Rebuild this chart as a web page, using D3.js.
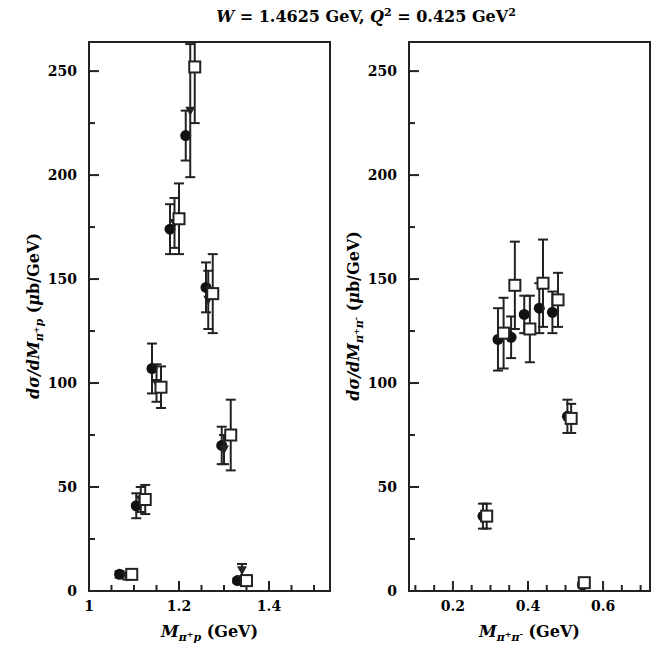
<!DOCTYPE html>
<html><head><meta charset="utf-8">
<script src="https://cdn.jsdelivr.net/npm/d3@7"></script>
<style>body{margin:0;background:#fff}text{font-family:"DejaVu Serif",serif;font-weight:bold}</style>
</head><body><div id="vis"></div>
<script>
var width = 652, height = 645;

// left panel: M(pi+ p)
var leftCircles = [[1.068,8,1.5],[1.105,41,6],[1.14,107,12],[1.18,174,12],[1.215,219,12],[1.26,146,12],[1.295,70,9],[1.33,5,1]];
var leftTriangles = [[1.085,7,1.5],[1.115,44,6],[1.15,100,9],[1.19,177,12],[1.225,231,32],[1.265,140,14],[1.3,68,7],[1.34,10,3]];
var leftSquares = [[1.095,8,1.5],[1.125,44,7],[1.16,98,10],[1.2,179,17],[1.235,252,27],[1.275,143,19],[1.315,75,17],[1.35,5,2]];
// right panel: M(pi+ pi-)
var rightCircles = [[0.28,36,6],[0.32,121,15],[0.355,122,10],[0.39,133,9],[0.43,136,12],[0.465,134,10],[0.505,84,8],[0.545,3,1]];
var rightSquares = [[0.29,36,6],[0.335,124,17],[0.365,147,21],[0.405,126,16],[0.44,148,21],[0.48,140,13],[0.515,83,7],[0.55,4,1]];

var yTicks = [0,50,100,150,200,250];
var leftXTicks = [1,1.2,1.4];
var rightXTicks = [0.2,0.4,0.6];

var svg = d3.select("#vis").append("svg").attr("width",width).attr("height",height);

svg.append("text").attr("x",366).attr("y",22).attr("text-anchor","middle").attr("font-size",16)
  .html('<tspan font-style="italic">W</tspan> = 1.4625 GeV, <tspan font-style="italic">Q</tspan><tspan dy="-6" font-size="11">2</tspan><tspan dy="6"> = 0.425 GeV</tspan><tspan dy="-6" font-size="11">2</tspan>');

function panel(x0,x1,xdom,xticks,series,xlab,ylab){
  var y = d3.scaleLinear().domain([0,264]).range([591,42]);
  var x = d3.scaleLinear().domain(xdom).range([x0,x1]);
  var g = svg.append("g");
  g.append("rect").attr("x",x0).attr("y",42).attr("width",x1-x0).attr("height",549)
    .attr("fill","none").attr("stroke","#222").attr("stroke-width",2);
  d3.range(0,264,25).forEach(function(v){
    var major = v%50===0;
    g.append("line").attr("x1",x0).attr("x2",x0+(major?10:6)).attr("y1",y(v)).attr("y2",y(v)).attr("stroke","#222").attr("stroke-width",2);
  });
  yTicks.forEach(function(v){
    g.append("text").attr("x",x0-12).attr("y",y(v)+5).attr("text-anchor","end").attr("font-size",14).text(v);
  });
  var step = 0.05, start = Math.ceil(xdom[0]/step-1e-9)*step;
  for(var v=start; v<xdom[1]; v+=step){
    var major = xticks.some(function(t){return Math.abs(t-v)<1e-6;});
    g.append("line").attr("x1",x(v)).attr("x2",x(v)).attr("y1",591).attr("y2",591-(major?10:6)).attr("stroke","#222").attr("stroke-width",2);
  }
  xticks.forEach(function(v){
    g.append("text").attr("x",x(v)).attr("y",611).attr("text-anchor","middle").attr("font-size",14).text(d3.format("")(v));
  });
  g.append("text").attr("x",(x0+x1)/2).attr("y",637).attr("text-anchor","middle").attr("font-size",16).html(xlab);
  g.append("text").attr("transform","translate("+(x0-50)+",316) rotate(-90)").attr("text-anchor","middle").attr("font-size",16).html(ylab);

  var clip = "c"+x0;
  g.append("clipPath").attr("id",clip).append("rect").attr("x",x0).attr("y",42).attr("width",x1-x0).attr("height",549);
  var d = g.append("g").attr("clip-path","url(#"+clip+")");
  series.forEach(function(s){
    s.data.forEach(function(p){
      var cx = x(p[0]), cy = y(p[1]);
      d.append("line").attr("x1",cx).attr("x2",cx).attr("y1",y(p[1]-p[2])).attr("y2",y(p[1]+p[2])).attr("stroke","#222").attr("stroke-width",2);
      [p[1]-p[2],p[1]+p[2]].forEach(function(e){
        d.append("line").attr("x1",cx-5).attr("x2",cx+5).attr("y1",y(e)).attr("y2",y(e)).attr("stroke","#222").attr("stroke-width",2);
      });
      if(s.type==="c") d.append("circle").attr("cx",cx).attr("cy",cy).attr("r",5.5).attr("fill","#111");
      else if(s.type==="t") d.append("path").attr("d","M"+(cx-5)+","+(cy-4)+"L"+(cx+5)+","+(cy-4)+"L"+cx+","+(cy+5)+"Z").attr("fill","#222");
      else d.append("rect").attr("x",cx-5.5).attr("y",cy-5.5).attr("width",11).attr("height",11).attr("fill","#fff").attr("stroke","#222").attr("stroke-width",2);
    });
  });
}

panel(89,330,[1,1.5356],leftXTicks,
  [{type:"c",data:leftCircles},{type:"t",data:leftTriangles},{type:"s",data:leftSquares}],
  '<tspan font-style="italic">M</tspan><tspan dy="4" font-size="11" font-style="italic">π</tspan><tspan dy="-4" font-size="8">+</tspan><tspan dy="4" font-size="11" font-style="italic">p</tspan><tspan dy="-4"> (GeV)</tspan>',
  '<tspan font-style="italic">dσ/dM</tspan><tspan dy="4" font-size="11" font-style="italic">π</tspan><tspan dy="-4" font-size="8">+</tspan><tspan dy="4" font-size="11" font-style="italic">p</tspan><tspan dy="-4"> (</tspan><tspan font-style="italic">μ</tspan>b/GeV)');
panel(409,650,[0.083,0.725],rightXTicks,
  [{type:"c",data:rightCircles},{type:"s",data:rightSquares}],
  '<tspan font-style="italic">M</tspan><tspan dy="4" font-size="11" font-style="italic">π</tspan><tspan dy="-4" font-size="8">+</tspan><tspan dy="4" font-size="11" font-style="italic">π</tspan><tspan dy="-4" font-size="8">-</tspan><tspan dy="0">  (GeV)</tspan>',
  '<tspan font-style="italic">dσ/dM</tspan><tspan dy="4" font-size="11" font-style="italic">π</tspan><tspan dy="-4" font-size="8">+</tspan><tspan dy="4" font-size="11" font-style="italic">π</tspan><tspan dy="-4" font-size="8">-</tspan><tspan>  (</tspan><tspan font-style="italic">μ</tspan>b/GeV)');
</script></body></html>
